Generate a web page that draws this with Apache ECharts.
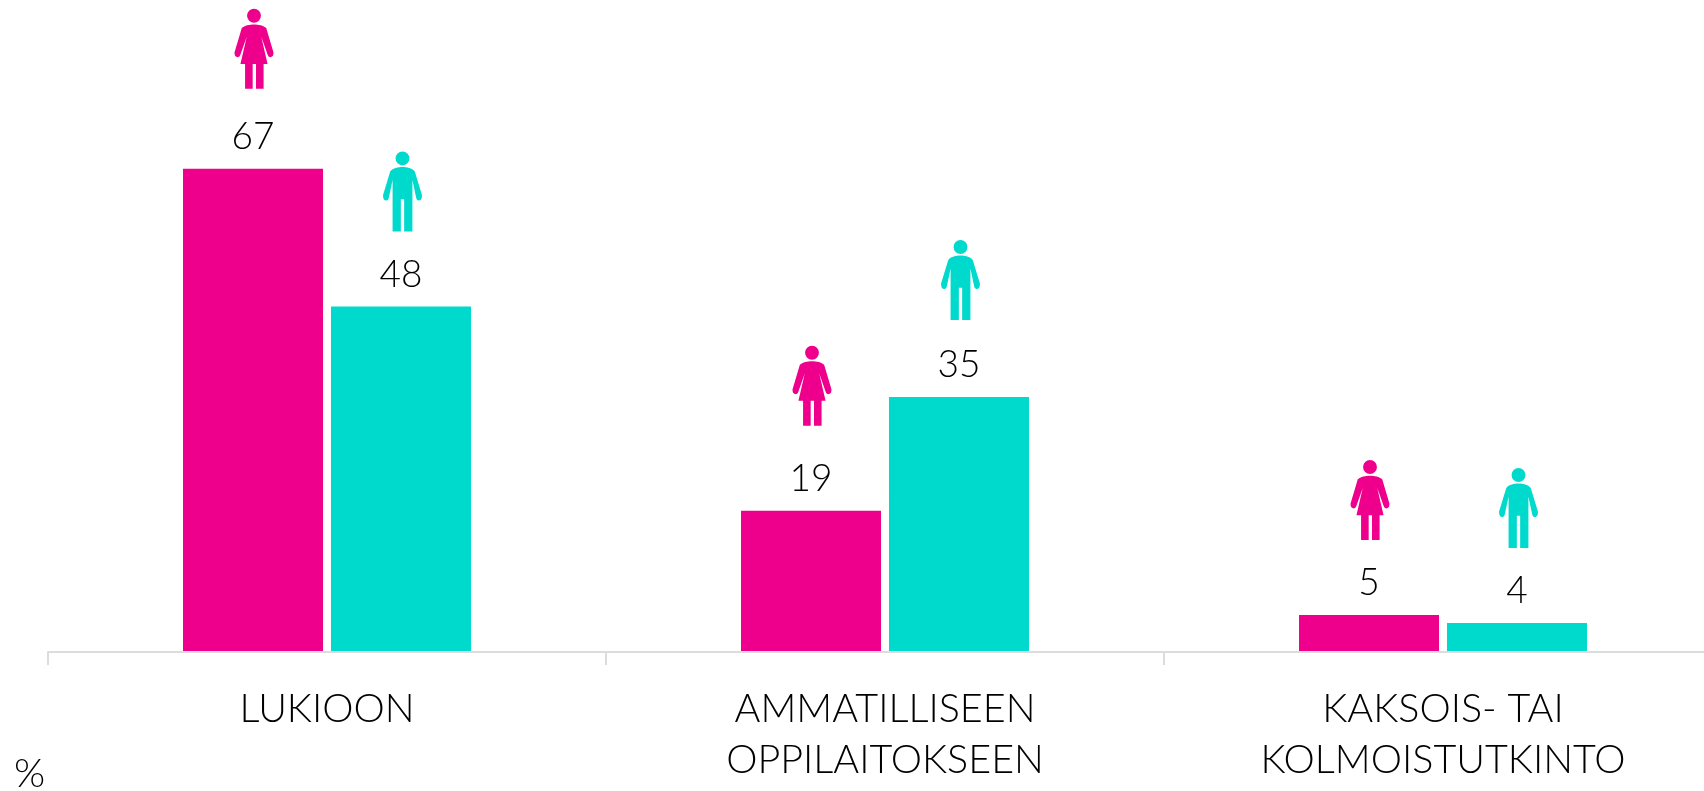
<!DOCTYPE html>
<html>
<head>
<meta charset="utf-8">
<script src="https://cdn.jsdelivr.net/npm/echarts@6/dist/echarts.min.js"></script>
<style>html,body{margin:0;padding:0;background:#fff;overflow:hidden}#c{width:1704px;height:791px}</style>
</head>
<body>
<div id="c"></div>
<script>
const categories = ['LUKIOON', 'AMMATILLISEEN\nOPPILAITOKSEEN', 'KAKSOIS- TAI\nKOLMOISTUTKINTO'];
const girls = [66.7, 19.5, 5.1];
const boys = [47.7, 35.2, 4.0];
const girlLabels = ['67', '19', '5'];
const boysLabels = ['48', '35', '4'];

const PINK = '#ef008c', TEAL = '#00dacd';
const FONT = 'Lato';
const girlLift = [120, 125, 115];
const boyLift = [115, 117, 115];
const HEAD = 'M59 0 A21 21 0 1 1 58.99 0 Z ';
const GIRL = 'path://' + HEAD + 'M59 47 C72 47 88 50 96 58 L118 132 Q118 146 108 146 Q102 146 100 138 L81 84 L100 166 L88 166 L88 241 L65 241 L65 166 L55 166 L55 241 L32 241 L32 166 L18 166 L37 84 L18 138 Q16 146 10 146 Q0 146 0 132 L22 58 C30 50 46 47 59 47 Z';
const BOY = 'path://' + HEAD + 'M59 47 C72 47 88 50 96 60 L118 132 Q118 148 108 148 Q102 148 100 138 L89 86 L89 241 L64 241 L64 144 L54 144 L54 241 L29 241 L29 86 L18 138 Q16 148 10 148 Q0 148 0 132 L22 60 C30 50 46 47 59 47 Z';

function barSeries(name, values, labels, color) {
  return {
    name, type: 'bar', data: values, barWidth: 140, barGap: '5.7%',
    itemStyle: { color }, silent: true,
    label: {
      show: true, position: 'top', distance: 13,
      color: '#000', fontFamily: FONT, fontWeight: 300, fontSize: 37,
      formatter: p => labels[p.dataIndex]
    }
  };
}
function iconSeries(name, values, symbol, color, dx, lifts) {
  return {
    name, type: 'scatter', silent: true, z: 5, symbol,
    symbolSize: [39, 80],
    itemStyle: { color, opacity: 1 },
    data: values.map((v, i) => ({ value: v, symbolOffset: [dx, -lifts[i]] }))
  };
}

const chart = echarts.init(document.getElementById('c'), null, { renderer: 'canvas' });
chart.setOption({
  animation: false,
  backgroundColor: '#fff',
  tooltip: { show: false },
  title: {
    text: '%', left: 9, top: 749,
    textStyle: { fontFamily: FONT, fontWeight: 300, fontSize: 40, color: '#000' }
  },
  grid: { left: 48, top: 0, width: 1674, height: 652, containLabel: false, outerBoundsMode: 'none' },
  xAxis: {
    type: 'category', data: categories, z: 3,
    axisLine: { lineStyle: { color: '#dcdcdc', width: 2 } },
    axisTick: { show: true, length: 13, lineStyle: { color: '#dcdcdc', width: 2 } },
    axisLabel: {
      interval: 0, margin: 32, color: '#000', fontFamily: FONT, fontWeight: 300,
      fontSize: 39.5, lineHeight: 51
    }
  },
  yAxis: { type: 'value', min: 0, max: 90, show: false },
  series: [
    barSeries('Tytöt', girls, girlLabels, PINK),
    barSeries('Pojat', boys, boysLabels, TEAL),
    iconSeries('Tytöt-kuvake', girls, GIRL, PINK, -73, girlLift),
    iconSeries('Pojat-kuvake', boys, BOY, TEAL, 75.5, boyLift)
  ]
});
</script>
</body>
</html>
